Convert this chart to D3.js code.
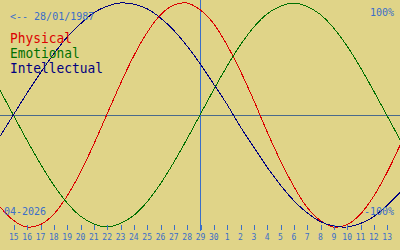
<!DOCTYPE html>
<html lang="en">
<head>
<meta charset="UTF-8">
<title>Biorhythm</title>
<script src="https://cdn.jsdelivr.net/npm/d3@7"></script>
<style>
  html, body { margin: 0; padding: 0; background: #e0d488; }
  svg { display: block; }
  text { font-family: "DejaVu Sans Mono", monospace; }
</style>
</head>
<body>
<div id="chart"></div>
<script>
// day labels under the ticks (15 Apr .. 13 May)
const dayLabels = ["15","16","17","18","19","20","21","22","23","24","25","26","27","28","29","30",
  "1","2","3","4","5","6","7","8","9","10","11","12","13"];
// curve values, one per day from 14 Apr (index -1) to 14 May (index 29)
const physical = [-0.82,-0.94,-1.00,-0.98,-0.89,-0.73,-0.52,-0.27,0,0.27,0.52,0.73,0.89,0.98,1.00,0.94,
  0.82,0.63,0.40,0.14,-0.14,-0.40,-0.63,-0.82,-0.94,-1.00,-0.98,-0.89,-0.73,-0.52,-0.27];
const emotional = [0.22,0,-0.22,-0.43,-0.62,-0.78,-0.90,-0.97,-1.00,-0.97,-0.90,-0.78,-0.62,-0.43,-0.22,0,
  0.22,0.43,0.62,0.78,0.90,0.97,1.00,0.97,0.90,0.78,0.62,0.43,0.22,0,-0.22];
const intellectual = [-0.19,0,0.19,0.37,0.54,0.69,0.81,0.91,0.97,1.00,0.99,0.95,0.87,0.76,0.62,0.46,
  0.28,0.10,-0.10,-0.28,-0.46,-0.62,-0.76,-0.87,-0.95,-0.99,-1.00,-0.97,-0.91,-0.81,-0.69];
const seriesNames = ["Physical", "Emotional", "Intellectual"];
const todayIndex = 14; // 29 April

const W = 400, H = 250;
const colors = ["#dc0000", "#007000", "#000080"];
const textBlue = "#3a6ec8";

const svg = d3.select("#chart").append("svg").attr("width", W).attr("height", H);
svg.append("rect").attr("width", W).attr("height", H).attr("fill", "#e0d488");

const x = d3.scaleLinear().domain([-1, 29]).range([0, W]);
const y = d3.scaleLinear().domain([-1, 1]).range([227, 3]);

// zero line
svg.append("line")
  .attr("x1", 0).attr("x2", W)
  .attr("y1", Math.round(y(0)) + 0.5).attr("y2", Math.round(y(0)) + 0.5)
  .attr("stroke", "#4a6a8c").attr("shape-rendering", "crispEdges");

// today line
svg.append("line")
  .attr("x1", Math.round(x(todayIndex)) + 0.5).attr("x2", Math.round(x(todayIndex)) + 0.5)
  .attr("y1", 0).attr("y2", 231)
  .attr("stroke", textBlue).attr("shape-rendering", "crispEdges");

const line = d3.line()
  .x((d, i) => x(i - 1))
  .y(d => y(d))
  .curve(d3.curveCatmullRom);

[physical, emotional, intellectual].forEach((vals, k) => {
  svg.append("path")
    .datum(vals)
    .attr("d", line)
    .attr("fill", "none")
    .attr("stroke", colors[k])
    .attr("stroke-width", 1)
    .attr("shape-rendering", "crispEdges");
});

// day axis
const axis = d3.axisBottom(x)
  .tickValues(d3.range(dayLabels.length))
  .tickFormat(i => dayLabels[i])
  .tickSize(5)
  .tickSizeOuter(0);
const ax = svg.append("g").attr("transform", "translate(0,225)").call(axis);
ax.select(".domain").remove();
ax.selectAll(".tick line").attr("stroke", textBlue).attr("shape-rendering", "crispEdges")
  .attr("transform", "translate(0.5,0)");
ax.selectAll(".tick text")
  .attr("fill", textBlue)
  .attr("font-family", "DejaVu Sans Mono, monospace")
  .attr("font-size", 8)
  .attr("y", 15).attr("dy", 0);

// legend
seriesNames.forEach((name, k) => {
  svg.append("text")
    .attr("x", 10).attr("y", 43 + k * 15)
    .attr("fill", colors[k])
    .attr("font-size", 14)
    .attr("textLength", name.length * 7.75)
    .attr("lengthAdjust", "spacingAndGlyphs")
    .text(name);
});

// labels
svg.append("text").attr("x", 10).attr("y", 20).attr("fill", textBlue)
  .attr("font-size", 10).text("<-- 28/01/1987");
svg.append("text").attr("x", 394).attr("y", 16).attr("fill", textBlue)
  .attr("font-size", 10).attr("text-anchor", "end").text("100%");
svg.append("text").attr("x", 394).attr("y", 215).attr("fill", textBlue)
  .attr("font-size", 10).attr("text-anchor", "end").text("-100%");
svg.append("text").attr("x", 4).attr("y", 215).attr("fill", textBlue)
  .attr("font-size", 10).text("04-2026");
</script>
</body>
</html>
